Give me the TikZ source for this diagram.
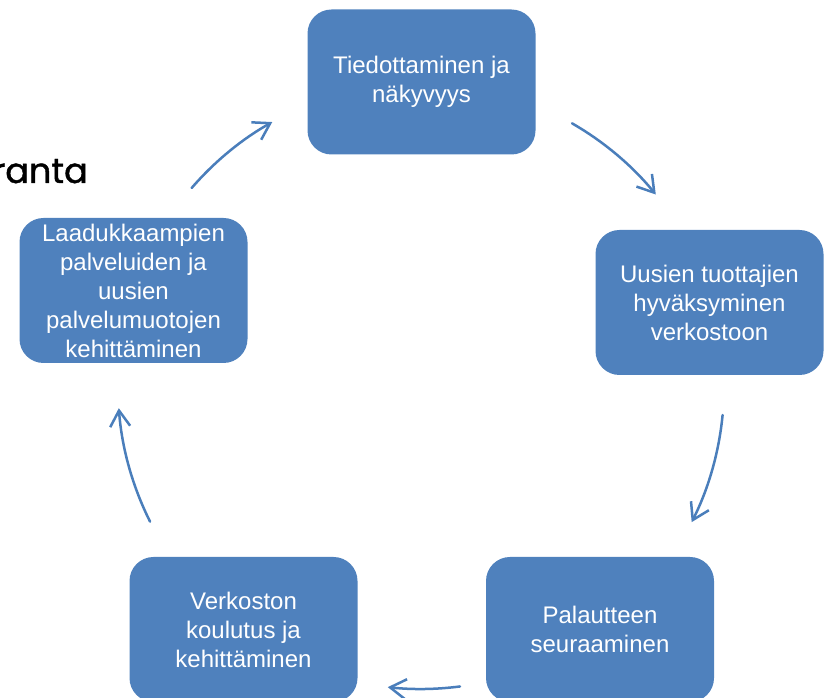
\documentclass[tikz,border=0pt]{standalone}
\usepackage{fontspec}
\setmainfont{Liberation Sans}
\newfontfamily\gothicfont[FakeBold=1.2]{Poppins}
\usetikzlibrary{arrows.meta}
\definecolor{boxblue}{HTML}{4F81BD}
\definecolor{arrowblue}{HTML}{4A7EBB}
\begin{document}
\begin{tikzpicture}[x=1pt,y=1pt,
  stage/.style={rectangle, rounded corners=24pt, fill=boxblue, minimum width=228pt,
    minimum height=145pt, align=center, text=white, inner sep=0pt,
    font=\fontsize{24}{29}\selectfont},
  flow/.style={arrowblue, line width=2.5pt, line cap=round,
    -{Straight Barb[length=16pt,width=20pt]}}]
  \clip (0,0) rectangle (825,698);
  %title fragment
  \node[anchor=base east, inner sep=0pt, font=\gothicfont\fontsize{35}{40}\selectfont] (title) at (88,515) {ranta};
  %boxes
  \node[stage] (info) at (421.5,616) {Tiedottaminen ja\\näkyvyys};
  \node[stage] (accept) at (709.5,395.5) {Uusien tuottajien\\hyväksyminen\\verkostoon};
  \node[stage] (feedback) at (600,68.5) {Palautteen\\seuraaminen};
  \node[stage] (training) at (243.5,68.5) {Verkoston\\koulutus ja\\kehittäminen};
  \node[stage] (develop) at (133.5,407.5) {Laadukkaampien\\palveluiden ja\\uusien\\palvelumuotojen\\kehittäminen};
  %arrows
  \coordinate (hub) at (421,312);
  \foreach \a/\b in {139.2/119.4, 60.1/39.2, -5.5/-26.7, -82.6/-96.3, 206.6/184.2}
    \draw[flow] ([shift={(\a:303pt)}]hub) arc[start angle=\a, end angle=\b, radius=303pt];
\end{tikzpicture}
\end{document}
